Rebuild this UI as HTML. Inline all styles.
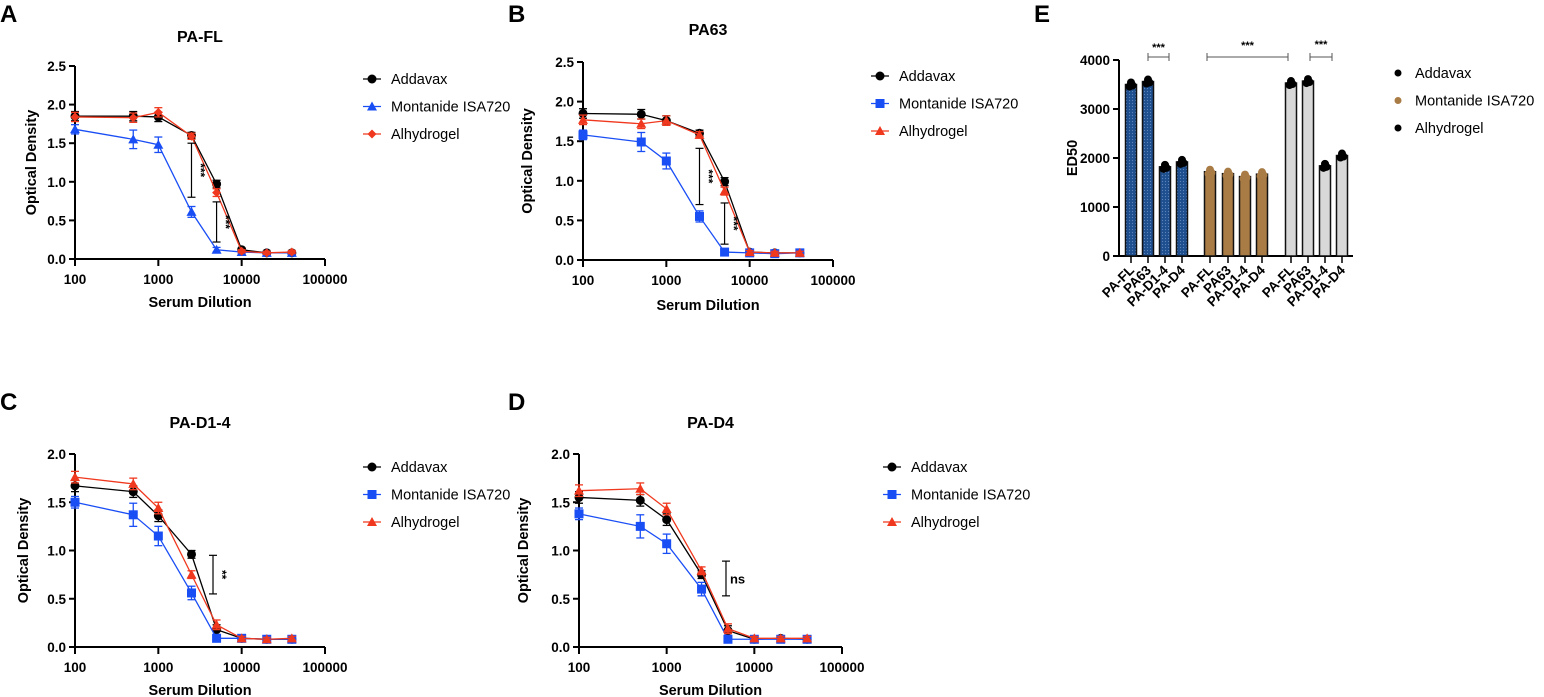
<!DOCTYPE html>
<html><head><meta charset="utf-8"><style>
body{margin:0;background:#fff;}
svg{display:block;font-family:"Liberation Sans",Arial,sans-serif;}
.b{font-weight:bold;}
</style></head><body>
<svg id="fig" width="1544" height="697" viewBox="0 0 1544 697"></svg>
<script>
const dilutions=[100,500,1000,2500,5000,10000,20000,40000];
const seriesNames=["Addavax","Montanide ISA720","Alhydrogel"];
const A_add=[1.85,1.85,1.84,1.60,0.97,0.12,0.08,0.08];
const A_mon=[1.68,1.55,1.48,0.61,0.12,0.09,0.08,0.08];
const A_alh=[1.84,1.83,1.90,1.59,0.86,0.10,0.08,0.09];
const B_add=[1.85,1.84,1.76,1.60,0.99,0.10,0.09,0.09];
const B_mon=[1.58,1.49,1.25,0.55,0.10,0.09,0.08,0.09];
const B_alh=[1.77,1.72,1.76,1.58,0.87,0.10,0.09,0.09];
const C_add=[1.67,1.61,1.36,0.96,0.18,0.09,0.08,0.08];
const C_mon=[1.50,1.37,1.15,0.56,0.09,0.09,0.08,0.08];
const C_alh=[1.76,1.69,1.44,0.75,0.23,0.09,0.08,0.09];
const D_add=[1.55,1.52,1.32,0.75,0.17,0.08,0.09,0.08];
const D_mon=[1.38,1.25,1.07,0.60,0.08,0.08,0.08,0.08];
const D_alh=[1.62,1.64,1.43,0.79,0.19,0.09,0.09,0.09];
const errs=[0.06,0.06,0.06,0.04,0.05,0.02,0.02,0.02];
const monErrs=[0.06,0.12,0.1,0.07,0.03,0.02,0.02,0.02];
const xTicks=[100,1000,10000,100000];
const yTicks25=[0,0.5,1.0,1.5,2.0,2.5];
const yTicks20=[0,0.5,1.0,1.5,2.0];
const edCats=["PA-FL","PA63","PA-D1-4","PA-D4"];
const edAdd=[3500,3560,1820,1920];
const edMon=[1720,1680,1620,1670];
const edAlh=[3530,3570,1840,2050];
const edTicks=[0,1000,2000,3000,4000];

const NS="http://www.w3.org/2000/svg";
const svg=document.getElementById('fig');
function el(tag,attrs,parent,txt){const e=document.createElementNS(NS,tag);for(const k in attrs)e.setAttribute(k,attrs[k]);if(txt!==undefined)e.textContent=txt;(parent||svg).appendChild(e);return e;}

function marker(g,type,x,y,c){
  let m;
  if(type==='circle')m=el('circle',{cx:x,cy:y,r:4.5,fill:c},g);
  else if(type==='square')m=el('rect',{x:x-4.5,y:y-4.5,width:9,height:9,fill:c},g);
  else if(type==='tri')m=el('polygon',{points:`${x},${y-5} ${x-5},${y+4} ${x+5},${y+4}`,fill:c},g);
  else m=el('polygon',{points:`${x},${y-4.5} ${x+4.5},${y} ${x},${y+4.5} ${x-4.5},${y}`,fill:c},g);
  
  
}

function panel(o){
  const g=el('g',{});
  
  
  const xs=v=>o.x0+(Math.log10(v)-2)/3*(o.x1-o.x0);
  const ys=v=>o.y0-v/o.ymax*(o.y0-o.yt);
  let t=el('text',{x:o.lx,y:o.ly,'font-size':24,class:'b'},g,o.letter);
  
  t=el('text',{x:(o.x0+o.x1)/2,y:o.ty,'font-size':16,class:'b','text-anchor':'middle'},g,o.title);
  
  el('line',{x1:o.x0,y1:o.yt,x2:o.x0,y2:o.y0+1,stroke:'#000','stroke-width':2},g);
  el('line',{x1:o.x0-1,y1:o.y0,x2:o.x1,y2:o.y0,stroke:'#000','stroke-width':2},g);
  xTicks.forEach(v=>{const x=xs(v);el('line',{x1:x,y1:o.y0,x2:x,y2:o.y0+7,stroke:'#000','stroke-width':2},g);
    const tt=el('text',{x:x,y:o.y0+25,'font-size':13.5,class:'b','text-anchor':'middle'},g,String(v));
    });
  o.yticks.forEach(v=>{const y=ys(v);el('line',{x1:o.x0-6,y1:y,x2:o.x0,y2:y,stroke:'#000','stroke-width':2},g);
    const tt=el('text',{x:o.x0-9,y:y+5,'font-size':13.5,class:'b','text-anchor':'end'},g,v.toFixed(1));
    });
  t=el('text',{x:(o.x0+o.x1)/2,y:o.xly,'font-size':14.5,class:'b','text-anchor':'middle'},g,'Serum Dilution');
  
  const cy=(o.y0+o.yt)/2;
  t=el('text',{x:o.ylx,y:cy,'font-size':14.5,class:'b','text-anchor':'middle',transform:`rotate(-90 ${o.ylx} ${cy})`},g,'Optical Density');
  
  o.series.forEach((s,si)=>{
    const sg=el('g',{},g);
    
    
    const e=si===1?monErrs:errs;
    s.vals.forEach((v,i)=>{const x=xs(dilutions[i]);
      el('line',{x1:x,y1:ys(v+e[i]),x2:x,y2:ys(v-e[i]),stroke:s.c,'stroke-width':1.3},sg);
      el('line',{x1:x-4,y1:ys(v+e[i]),x2:x+4,y2:ys(v+e[i]),stroke:s.c,'stroke-width':1.3},sg);
      el('line',{x1:x-4,y1:ys(v-e[i]),x2:x+4,y2:ys(v-e[i]),stroke:s.c,'stroke-width':1.3},sg);});
    el('polyline',{points:s.vals.map((v,i)=>xs(dilutions[i])+','+ys(v)).join(' '),fill:'none',stroke:s.c,'stroke-width':1.3},sg);
    s.vals.forEach((v,i)=>marker(sg,s.m,xs(dilutions[i]),ys(v),s.c));
  });
  o.sig.forEach(s=>{const x=xs(s.x),y1=ys(s.hi),y2=ys(s.lo);
    const sg=el('g',{},g);
    el('line',{x1:x,y1:y1,x2:x,y2:y2,stroke:'#000','stroke-width':1.2},sg);
    el('line',{x1:x-4,y1:y1,x2:x+4,y2:y1,stroke:'#000','stroke-width':1.2},sg);
    el('line',{x1:x-4,y1:y2,x2:x+4,y2:y2,stroke:'#000','stroke-width':1.2},sg);
    const my=(y1+y2)/2;
    if(s.t==='ns')el('text',{x:x+4,y:my+5,'font-size':13,class:'b'},sg,'ns');
    else el('text',{x:x+5,y:my,'font-size':12,class:'b','text-anchor':'middle',transform:`rotate(90 ${x+5} ${my})`},sg,s.t);
  });
  o.series.forEach((s,si)=>{const y=o.legy+si*27.5;
    const lg=el('g',{},g);
    el('line',{x1:o.legx-9,y1:y,x2:o.legx+9,y2:y,stroke:s.c,'stroke-width':1.3},lg);
    marker(lg,s.m,o.legx,y,s.c);
    el('text',{x:o.legx+19,y:y+5,'font-size':14.5},lg,seriesNames[si]);});
}
const K='#000',BL='#1a4ef5',R='#f0381e';
panel({letter:'A',lx:0,ly:22,title:'PA-FL',ty:42,x0:75,x1:325,y0:259,yt:66,ymax:2.5,yticks:yTicks25,xly:307,ylx:36,legx:372,legy:79,
  series:[{vals:A_add,c:K,m:'circle'},{vals:A_mon,c:BL,m:'tri'},{vals:A_alh,c:R,m:'diamond'}],
  sig:[{x:2500,lo:0.8,hi:1.5,t:'***'},{x:5000,lo:0.22,hi:0.74,t:'***'}]});
panel({letter:'B',lx:508,ly:22,title:'PA63',ty:35,x0:583,x1:833,y0:260,yt:62,ymax:2.5,yticks:yTicks25,xly:310,ylx:532,legx:880,legy:76,
  series:[{vals:B_add,c:K,m:'circle'},{vals:B_mon,c:BL,m:'square'},{vals:B_alh,c:R,m:'tri'}],
  sig:[{x:2500,lo:0.7,hi:1.41,t:'***'},{x:5000,lo:0.2,hi:0.72,t:'***'}]});
panel({letter:'C',lx:0,ly:410,title:'PA-D1-4',ty:428,x0:75,x1:325,y0:647,yt:454,ymax:2.0,yticks:yTicks20,xly:695,ylx:28,legx:372,legy:467,
  series:[{vals:C_add,c:K,m:'circle'},{vals:C_mon,c:BL,m:'square'},{vals:C_alh,c:R,m:'tri'}],
  sig:[{x:4530,lo:0.55,hi:0.95,t:'**'}]});
panel({letter:'D',lx:508,ly:410,title:'PA-D4',ty:428,x0:579,x1:842,y0:647,yt:454,ymax:2.0,yticks:yTicks20,xly:695,ylx:528,legx:892,legy:467,
  series:[{vals:D_add,c:K,m:'circle'},{vals:D_mon,c:BL,m:'square'},{vals:D_alh,c:R,m:'tri'}],
  sig:[{x:4750,lo:0.53,hi:0.89,t:'ns'}]});

(function(){
  const g=el('g',{});
  
  
  const defs=el('defs',{},g);
  const p=el('pattern',{id:'dots',width:3,height:3,patternUnits:'userSpaceOnUse'},defs);
  el('rect',{width:3,height:3,fill:'#1e4f8f'},p);
  el('circle',{cx:1.5,cy:1.5,r:0.6,fill:'#5f86bb'},p);
  const x0=1119,x1=1353,y0=256,yt=60,ymax=4000;
  const ys=v=>y0-v/ymax*(y0-yt);
  const centers=[1131,1148,1165,1182,1210,1228,1245,1262,1291,1308,1325,1342];
  let t=el('text',{x:1034,y:22,'font-size':24,class:'b'},g,'E');
  
  el('line',{x1:x0,y1:yt,x2:x0,y2:y0+1,stroke:'#000','stroke-width':2},g);
  el('line',{x1:x0-1,y1:y0,x2:x1,y2:y0,stroke:'#000','stroke-width':2},g);
  edTicks.forEach(v=>{const y=ys(v);el('line',{x1:x0-6,y1:y,x2:x0,y2:y,stroke:'#000','stroke-width':2},g);
    const tt=el('text',{x:x0-9,y:y+5,'font-size':13.5,class:'b','text-anchor':'end'},g,String(v));
    });
  t=el('text',{x:1077,y:158,'font-size':14.5,class:'b','text-anchor':'middle',transform:'rotate(-90 1077 158)'},g,'ED50');
  
  const groups=[{v:edAdd,f:'url(#dots)',dot:'#000'},{v:edMon,f:'#a97b45',dot:'#a97b45'},{v:edAlh,f:'#d8d8d8',dot:'#000'}];
  groups.forEach((gr,gi)=>gr.v.forEach((v,i)=>{
    const cx=centers[gi*4+i];
    const bar=el('rect',{x:cx-5.5,y:ys(v),width:11,height:y0-ys(v),fill:gr.f,stroke:'#111','stroke-width':1.5},g);
    
    
    el('circle',{cx:cx,cy:ys(v)-2,r:4,fill:gr.dot},g);
    el('circle',{cx:cx-1.5,cy:ys(v)+2,r:4,fill:gr.dot},g);
    el('circle',{cx:cx+1.5,cy:ys(v)+1,r:4,fill:gr.dot},g);
    el('line',{x1:cx,y1:y0,x2:cx,y2:y0+7,stroke:'#000','stroke-width':1.5},g);
    const lab=el('text',{x:cx+4,y:y0+15,'font-size':13.5,class:'b','text-anchor':'end',transform:`rotate(-45 ${cx+4} ${y0+15})`},g,edCats[i]);
    
  }));
  [[1148,1169,45],[1207,1288,43],[1310,1332,42]].forEach(b=>{
    const sg=el('g',{},g);
    el('line',{x1:b[0],y1:57,x2:b[1],y2:57,stroke:'#555','stroke-width':1},sg);
    el('line',{x1:b[0],y1:53,x2:b[0],y2:61,stroke:'#555','stroke-width':1},sg);
    el('line',{x1:b[1],y1:53,x2:b[1],y2:61,stroke:'#555','stroke-width':1},sg);
    el('text',{x:(b[0]+b[1])/2,y:b[2]+6,'font-size':11,class:'b','text-anchor':'middle'},sg,'***');
  });
  const legCols=['#000','#a97b45','#000'];
  seriesNames.forEach((n,i)=>{const y=73+i*27.5;
    const lg=el('g',{},g);
    el('circle',{cx:1398,cy:y,r:3.5,fill:legCols[i]},lg);
    el('text',{x:1415,y:y+5,'font-size':14.5},lg,n);});
})();
</script>
</body></html>
